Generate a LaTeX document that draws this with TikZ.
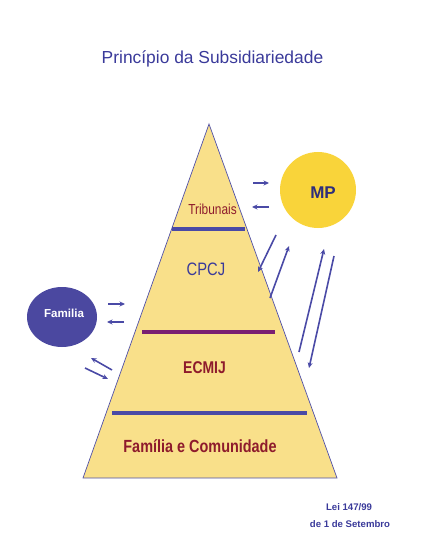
\documentclass[tikz,border=0pt]{standalone}
\usepackage{fontspec}
\setmainfont{Liberation Sans}
\newfontfamily\narrowfont[FakeStretch=0.82]{Liberation Sans}
\usetikzlibrary{arrows.meta}
\definecolor{pyrfill}{HTML}{F9E08A}
\definecolor{pyrline}{HTML}{5050A8}
\definecolor{barblue}{HTML}{4A4AA6}
\definecolor{barpurple}{HTML}{7A1F72}
\definecolor{darkred}{HTML}{8E1B2C}
\definecolor{textblue}{HTML}{3A3A9A}
\definecolor{mpyellow}{HTML}{F9D43A}
\definecolor{famblue}{HTML}{4B48A0}
\tikzset{
  bar/.style={line width=4pt},
  arr/.style={line width=1.6pt,barblue,-{Stealth[length=5.5pt,width=5pt]}},
  lbl/.style={inner sep=0pt,anchor=base}
}
\begin{document}
\begin{tikzpicture}[x=1pt,y=-1pt]
    \useasboundingbox (0,0) rectangle (430,548);
    \node[lbl,textblue,font=\fontsize{17.4}{20}\selectfont] (title) at (212.5,63.3)
        {Princípio da Subsidiariedade};
    % pyramid
    \coordinate (apex) at (209,124);
    \coordinate (bl) at (83,478);
    \coordinate (br) at (337,478);
    \draw[pyrline,fill=pyrfill,line width=0.7pt] (apex) -- (bl) -- (br) -- cycle;
    \draw[bar,barblue] (172,229) coordinate (b1l) -- (245,229) coordinate (b1r);
    \draw[bar,barpurple] (142,332) coordinate (b2l) -- (275,332) coordinate (b2r);
    \draw[bar,barblue] (112,413) coordinate (b3l) -- (307,413) coordinate (b3r);
    \node[lbl,darkred,font=\narrowfont\fontsize{14.5}{16}\selectfont] (trib) at (212.5,214) {Tribunais};
    \node[lbl,textblue,font=\narrowfont\fontsize{18}{20}\selectfont] (cpcj) at (206,275) {CPCJ};
    \node[lbl,darkred,font=\narrowfont\bfseries\fontsize{17}{20}\selectfont] (ecmij) at (204.5,373) {ECMIJ};
    \node[lbl,darkred,font=\narrowfont\bfseries\fontsize{17.6}{20}\selectfont] (famcom) at (200,452)
        {Família e Comunidade};
    % MP and Familia
    \fill[mpyellow] (318,190) circle (38);
    \node[lbl,textblue!80!black,font=\bfseries\fontsize{17}{20}\selectfont] (mp) at (323,198) {MP};
    \fill[famblue] (62,317) ellipse (35 and 30);
    \node[lbl,white,font=\bfseries\fontsize{11.6}{14}\selectfont] (fam) at (64,317) {Familia};
    % arrows
    \coordinate (m1) at (253,183); \coordinate (m2) at (269,183);
    \coordinate (m3) at (269,207); \coordinate (m4) at (252,207);
    \draw[arr] (m1) -- (m2);
    \draw[arr] (m3) -- (m4);
    \coordinate (f1) at (108,304); \coordinate (f2) at (125,304);
    \coordinate (f3) at (124,322); \coordinate (f4) at (107,322);
    \draw[arr] (f1) -- (f2);
    \draw[arr] (f3) -- (f4);
    \coordinate (g1) at (112,370); \coordinate (g2) at (91,358);
    \coordinate (g3) at (85,368); \coordinate (g4) at (108,379);
    \draw[arr] (g1) -- (g2);
    \draw[arr] (g3) -- (g4);
    \coordinate (d1) at (276,235); \coordinate (d2) at (258,272);
    \coordinate (d3) at (270,298); \coordinate (d4) at (289,246);
    \coordinate (d5) at (299,352); \coordinate (d6) at (324,249);
    \coordinate (d7) at (334,256); \coordinate (d8) at (309,368);
    \draw[arr] (d1) -- (d2);
    \draw[arr] (d3) -- (d4);
    \draw[arr] (d5) -- (d6);
    \draw[arr] (d7) -- (d8);
    \node[lbl,textblue,font=\bfseries\fontsize{9.6}{12}\selectfont] (lei) at (349,510) {Lei 147/99};
    \node[lbl,textblue,font=\bfseries\fontsize{9.6}{12}\selectfont] (data) at (350,527) {de 1 de Setembro};
\end{tikzpicture}
\end{document}
